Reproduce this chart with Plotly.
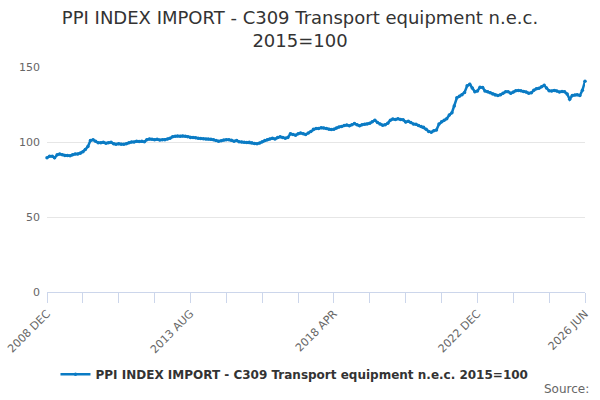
import plotly.graph_objects as go
import pandas as pd

# monthly index values, Dec 2008 .. Jun 2026
values = [
    89.5, 90.5, 90.5, 89.5, 91.5, 92.0, 91.5, 91.0, 91.0, 90.8,
    91.5, 92.0, 92.0, 92.5, 93.5, 95.0, 97.0, 101.0, 101.5, 100.5,
    99.5, 99.5, 99.8, 99.2, 99.5, 99.8, 98.8, 98.5, 98.8, 98.5,
    98.5, 98.8, 99.5, 100.0, 100.0, 100.5, 100.3, 100.5, 100.2, 101.5,
    102.0, 101.8, 101.5, 101.8, 101.3, 101.5, 101.5, 102.0, 102.5, 103.5,
    103.8, 104.0, 103.8, 104.0, 103.8, 103.5, 103.0, 103.0, 102.8, 102.5,
    102.3, 102.2, 102.0, 102.0, 101.8, 101.5, 101.0, 100.5, 100.8, 101.3,
    101.5, 101.5, 101.2, 100.5, 101.0, 100.2, 100.0, 99.8, 99.7, 99.8,
    99.5, 99.0, 98.8, 99.3, 100.2, 101.0, 101.5, 102.0, 102.5, 102.0,
    103.0, 103.5, 103.0, 102.5, 103.0, 105.5, 105.0, 104.5, 105.5, 106.0,
    105.5, 105.0, 106.0, 107.0, 108.5, 109.0, 109.0, 109.5, 109.3, 109.0,
    108.5, 108.3, 108.5, 109.3, 110.0, 110.3, 111.0, 111.3, 110.8, 111.5,
    112.3, 111.5, 110.8, 111.5, 111.8, 112.0, 112.5, 113.5, 114.5, 113.0,
    112.0, 111.2, 111.5, 112.5, 114.5, 115.3, 115.0, 115.5, 115.0, 114.8,
    113.3, 113.8, 113.0, 112.0, 111.8, 111.0, 110.3, 109.8, 108.5, 107.0,
    106.5, 107.5, 108.0, 112.0, 113.5, 114.5, 115.5, 118.0, 119.5, 124.0,
    129.5, 130.5, 131.5, 133.0, 137.5, 138.5, 136.0, 133.5, 134.0, 136.5,
    136.3, 134.0, 133.5, 132.9, 132.0, 131.3, 131.0, 131.5, 132.5, 133.5,
    133.5, 132.5, 133.3, 134.2, 134.4, 134.2, 133.6, 133.3, 132.5, 132.8,
    134.5, 135.5, 135.8, 136.8, 137.8, 136.0, 134.2, 134.0, 134.4, 134.0,
    133.3, 133.6, 133.5, 132.0, 128.5, 131.0, 131.3, 131.5, 131.0, 134.5,
    140.5,
]
months = pd.date_range("2008-12-01", periods=len(values), freq="MS")

# axis ticks every 14 months, labels every 56 plus the last one
tick_step = 14
label_idx = [0, 56, 112, 168, 210]
tick_vals = list(months[::tick_step])
tick_text = [m.strftime("%Y %b").upper() if i * tick_step in label_idx else ""
             for i, m in enumerate(tick_vals)]

y_ticks = [0, 50, 100, 150]

series_name = "PPI INDEX IMPORT - C309 Transport equipment n.e.c. 2015=100"
line_color = "#0a7bc4"

fig = go.Figure()
fig.add_trace(go.Scatter(
    x=months, y=values,
    mode="lines+markers",
    name=series_name,
    line=dict(color=line_color, width=2.5),
    marker=dict(size=3.5, color=line_color),
    cliponaxis=False,
))

fig.update_layout(
    width=600, height=400,
    margin=dict(l=47, r=15, t=67, b=108, autoexpand=False),
    paper_bgcolor="white",
    plot_bgcolor="white",
    font=dict(family="DejaVu Sans", color="#666666", size=11),
    title=dict(
        text="PPI INDEX IMPORT - C309 Transport equipment n.e.c.<br>2015=100",
        x=0.5, xanchor="center", y=0.94, yanchor="top",
        font=dict(family="DejaVu Sans", size=18, color="#333333"),
    ),
    xaxis=dict(
        range=[months[0], months[-1]],
        tickmode="array", tickvals=tick_vals, ticktext=tick_text,
        tickangle=-45, ticks="outside", ticklen=10, tickcolor="#ccd6eb",
        showline=True, linecolor="#ccd6eb", linewidth=1,
        showgrid=False, zeroline=False, automargin=False,
        tickfont=dict(size=11, color="#666666"),
    ),
    yaxis=dict(
        range=[0, 150],
        tickmode="array", tickvals=y_ticks,
        showgrid=True, gridcolor="#e6e6e6", zeroline=False,
        showline=False, ticks="", ticklabelstandoff=6, automargin=False,
        tickfont=dict(size=11, color="#666666"),
    ),
    legend=dict(
        orientation="h", x=0.46, xanchor="center",
        y=-0.365, yanchor="middle",
        font=dict(size=12, color="#333333", family="DejaVu Sans", weight="bold"),
    ),
    showlegend=True,
)

fig.add_annotation(
    text="Source:", xref="paper", yref="paper",
    x=1.0, y=-0.43, xanchor="right", yanchor="middle", xshift=6,
    showarrow=False, font=dict(size=12, color="#666666"),
)

# drop the default page margin so the 600x400 figure fills the window
fig.write_html("out.html", config={"displayModeBar": False},
               post_script="document.body.style.margin='0';")
